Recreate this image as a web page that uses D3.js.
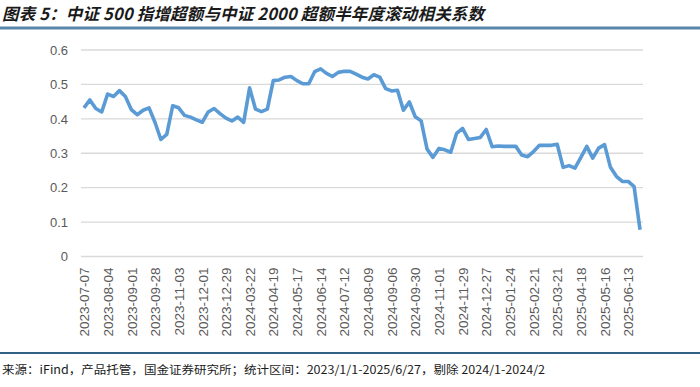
<!DOCTYPE html>
<html>
<head>
<meta charset="utf-8">
<script src="https://cdn.jsdelivr.net/npm/d3@7"></script>
<style>
  body { margin: 0; background: #fff; }
  svg { display: block; }
</style>
</head>
<body>
<div id="chart"></div>
<script>
// weekly dates (Jan-Feb 2024 removed)
var dates = [
  "2023-07-07","2023-07-14","2023-07-21","2023-07-28","2023-08-04","2023-08-11","2023-08-18","2023-08-25",
  "2023-09-01","2023-09-08","2023-09-15","2023-09-22","2023-09-28","2023-10-13","2023-10-20","2023-10-27",
  "2023-11-03","2023-11-10","2023-11-17","2023-11-24","2023-12-01","2023-12-08","2023-12-15","2023-12-22",
  "2023-12-29","2024-03-01","2024-03-08","2024-03-15","2024-03-22","2024-03-29","2024-04-03","2024-04-12",
  "2024-04-19","2024-04-26","2024-04-30","2024-05-10","2024-05-17","2024-05-24","2024-05-31","2024-06-07",
  "2024-06-14","2024-06-21","2024-06-28","2024-07-05","2024-07-12","2024-07-19","2024-07-26","2024-08-02",
  "2024-08-09","2024-08-16","2024-08-23","2024-08-30","2024-09-06","2024-09-13","2024-09-20","2024-09-27",
  "2024-09-30","2024-10-11","2024-10-18","2024-10-25","2024-11-01","2024-11-08","2024-11-15","2024-11-22",
  "2024-11-29","2024-12-06","2024-12-13","2024-12-20","2024-12-27","2025-01-03","2025-01-10","2025-01-17",
  "2025-01-24","2025-01-27","2025-02-07","2025-02-14","2025-02-21","2025-02-28","2025-03-07","2025-03-14",
  "2025-03-21","2025-03-28","2025-04-03","2025-04-11","2025-04-18","2025-04-25","2025-04-30","2025-05-09",
  "2025-05-16","2025-05-23","2025-05-30","2025-06-06","2025-06-13","2025-06-20","2025-06-27"
];

// rolling half-year correlation
var corr = [
  0.432, 0.455, 0.430, 0.420, 0.472, 0.465, 0.482, 0.465, 0.427, 0.412,
  0.425, 0.432, 0.390, 0.340, 0.355, 0.438, 0.432, 0.410, 0.405, 0.397,
  0.390, 0.420, 0.430, 0.415, 0.402, 0.394, 0.405, 0.390, 0.490, 0.428,
  0.421, 0.428, 0.511, 0.513, 0.521, 0.523, 0.511, 0.502, 0.502, 0.537,
  0.545, 0.532, 0.523, 0.535, 0.538, 0.538, 0.530, 0.521, 0.516, 0.528,
  0.521, 0.488, 0.481, 0.483, 0.425, 0.449, 0.406, 0.394, 0.312, 0.288,
  0.314, 0.310, 0.303, 0.358, 0.372, 0.340, 0.343, 0.346, 0.369, 0.319,
  0.321, 0.320, 0.320, 0.320, 0.295, 0.290, 0.305, 0.323, 0.323, 0.323,
  0.326, 0.259, 0.264, 0.257, 0.288, 0.320, 0.286, 0.315, 0.325, 0.259,
  0.233, 0.218, 0.218, 0.203, 0.078
];

var yTicks = [0, 0.1, 0.2, 0.3, 0.4, 0.5, 0.6];
var yTickLabels = ["0", "0.1", "0.2", "0.3", "0.4", "0.5", "0.6"];

var titleText = "图表 5：中证 500 指增超额与中证 2000 超额半年度滚动相关系数";
var sourceText = "来源：iFind，产品托管，国金证券研究所；统计区间：2023/1/1-2025/6/27，剔除 2024/1-2024/2";

var svgWidth = 700, svgHeight = 387;
var plot = { left: 81, right: 643, top: 50, bottom: 256.5 };

var svg = d3.select("#chart").append("svg")
    .attr("width", svgWidth)
    .attr("height", svgHeight);

// title + rule underneath
svg.append("text")
    .attr("x", 2)
    .attr("y", 20)
    .attr("font-family", "'Noto Sans CJK SC', sans-serif")
    .attr("font-size", 16.5)
    .attr("font-weight", "bold")
    .attr("font-style", "italic")
    .attr("fill", "#1a1a1a")
    .attr("textLength", 482)
    .attr("lengthAdjust", "spacing")
    .text(titleText);

svg.append("line")
    .attr("x1", 0).attr("x2", svgWidth)
    .attr("y1", 28).attr("y2", 28)
    .attr("stroke", "#5b86ab")
    .attr("stroke-width", 3);

var xScale = d3.scalePoint()
    .domain(dates)
    .range([plot.left, plot.right])
    .padding(0.5);

var yScale = d3.scaleLinear()
    .domain([0, 0.6])
    .range([plot.bottom, plot.top]);

// gridlines
svg.append("g")
    .selectAll("line")
    .data(yTicks)
    .enter()
    .append("line")
    .attr("x1", plot.left)
    .attr("x2", plot.right)
    .attr("y1", d => yScale(d))
    .attr("y2", d => yScale(d))
    .attr("stroke", "#d9d9d9")
    .attr("stroke-width", 1.3);

// y axis labels
var yAxis = d3.axisLeft(yScale)
    .tickValues(yTicks)
    .tickFormat((d, i) => yTickLabels[i])
    .tickSize(0)
    .tickPadding(13);

var yG = svg.append("g")
    .attr("transform", `translate(${plot.left}, 0)`)
    .call(yAxis);
yG.select(".domain").remove();
yG.selectAll("text")
    .attr("font-family", "'Liberation Sans', Arial, sans-serif")
    .attr("font-size", 13)
    .attr("fill", "#595959");

// x axis labels, every 4th week
var xAxis = d3.axisBottom(xScale)
    .tickValues(dates.filter((d, i) => i % 4 === 0))
    .tickSize(0);

var xG = svg.append("g")
    .attr("transform", `translate(0, ${plot.bottom})`)
    .call(xAxis);
xG.select(".domain").remove();
xG.selectAll("text")
    .attr("font-family", "'Liberation Sans', Arial, sans-serif")
    .attr("font-size", 13.5)
    .attr("fill", "#595959")
    .attr("text-anchor", "end")
    .attr("transform", "rotate(-90)")
    .attr("x", -11)
    .attr("y", 0)
    .attr("dy", "0.35em");

// the line
var line = d3.line()
    .x((d, i) => xScale(dates[i]))
    .y(d => yScale(d));

svg.append("path")
    .datum(corr)
    .attr("fill", "none")
    .attr("stroke", "#5b9bd5")
    .attr("stroke-width", 3.6)
    .attr("stroke-linejoin", "round")
    .attr("d", line);

// footer
svg.append("line")
    .attr("x1", 0).attr("x2", svgWidth)
    .attr("y1", 353).attr("y2", 353)
    .attr("stroke", "#2f6183")
    .attr("stroke-width", 2);

svg.append("text")
    .attr("x", 2)
    .attr("y", 374)
    .attr("font-family", "'Noto Sans CJK SC', sans-serif")
    .attr("font-size", 11.5)
    .attr("fill", "#1a1a1a")
    .attr("textLength", 543)
    .attr("lengthAdjust", "spacingAndGlyphs")
    .text(sourceText);
</script>
</body>
</html>
